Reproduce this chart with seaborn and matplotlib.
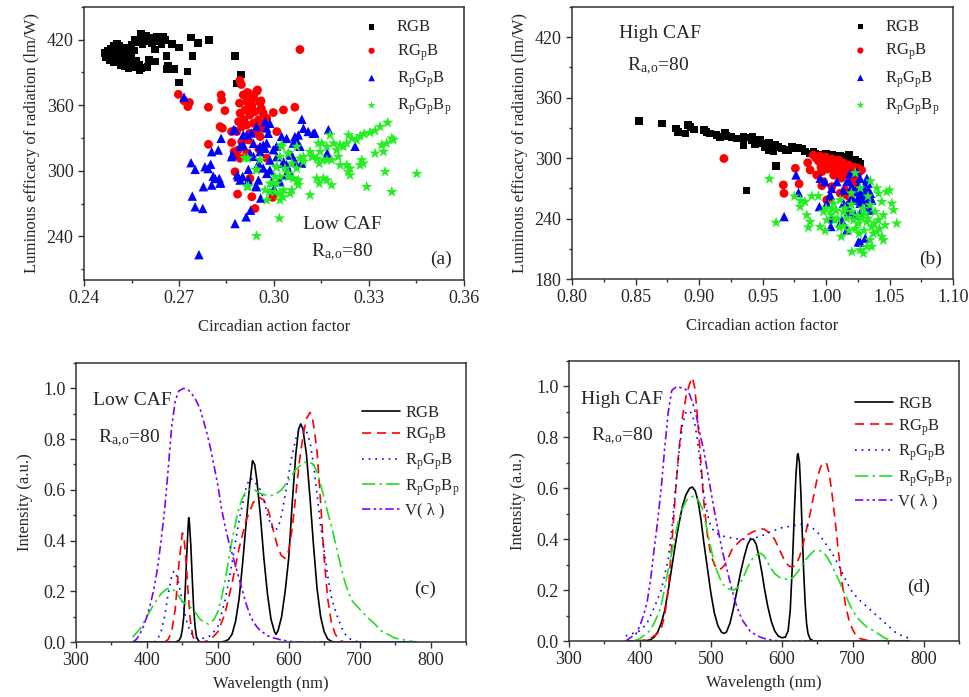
import matplotlib
matplotlib.use('Agg')
import matplotlib.pyplot as plt
from matplotlib.ticker import MultipleLocator, FormatStrFormatter
import seaborn as sns

# ---- scatter data: (circadian action factor, luminous efficacy lm/W) ----
a_rgb = [(0.2465, 408), (0.2470, 404), (0.2475, 410), (0.2480, 406), (0.2480, 401), (0.2485, 412),
         (0.2490, 403), (0.2490, 408), (0.2495, 399), (0.2500, 411), (0.2500, 405), (0.2505, 401),
         (0.2510, 414), (0.2510, 408), (0.2515, 397), (0.2520, 404), (0.2520, 411), (0.2525, 400),
         (0.2530, 407), (0.2530, 396), (0.2535, 413), (0.2540, 402), (0.2540, 409), (0.2545, 398),
         (0.2550, 405), (0.2550, 415), (0.2555, 395), (0.2560, 410), (0.2565, 401), (0.2570, 418),
         (0.2575, 397), (0.2575, 392), (0.2580, 425), (0.2585, 416), (0.2590, 421), (0.2595, 424),
         (0.2600, 419), (0.2605, 402), (0.2610, 422), (0.2615, 417), (0.2620, 420), (0.2625, 411),
         (0.2625, 400), (0.2630, 423), (0.2640, 419), (0.2645, 416), (0.2650, 423), (0.2655, 420),
         (0.2660, 405), (0.2660, 393), (0.2665, 396), (0.2678, 416), (0.2685, 393), (0.2700, 413),
         (0.2700, 381), (0.2727, 391), (0.2737, 422), (0.2743, 405), (0.2760, 417), (0.2795, 420),
         (0.2877, 405), (0.2895, 388), (0.2883, 380), (0.2560, 420), (0.2570, 396), (0.2505, 416),
         (0.2495, 414), (0.2515, 410), (0.2540, 394), (0.2600, 395), (0.2580, 394)]
a_rgpb = [(0.3082, 411), (0.2698, 370), (0.2716, 364), (0.2733, 362.5), (0.2728, 358.8), (0.2793, 358.2),
          (0.2833, 369.5), (0.2835, 364.9), (0.2845, 355.1), (0.2892, 382.7), (0.2897, 379), (0.2919, 371),
          (0.2948, 374), (0.2936, 367), (0.2959, 364), (0.2891, 361.9), (0.2903, 369.5), (0.2916, 371.7),
          (0.2933, 366.5), (0.2945, 372.6), (0.2956, 362.5), (0.2893, 352.7), (0.2909, 355.7), (0.2924, 351.1),
          (0.2940, 354.2), (0.2951, 346.6), (0.2935, 343.5), (0.2914, 342.0), (0.2898, 340.4), (0.2882, 335.9),
          (0.2866, 335.9), (0.2956, 338.9), (0.2966, 352.7), (0.2977, 348.1), (0.3009, 335.9), (0.2919, 328.2),
          (0.2898, 326.7), (0.2887, 319.0), (0.2893, 311.4), (0.2880, 314.4), (0.2914, 316.0), (0.2866, 325.8),
          (0.2874, 317.5), (0.2924, 334.3), (0.2945, 335.9), (0.2956, 331.3), (0.2930, 360.3), (0.2914, 363.4),
          (0.2998, 353.3), (0.3030, 355.7), (0.3066, 358.2), (0.2837, 339), (0.2793, 324.2), (0.2877, 299.1),
          (0.2924, 293), (0.2885, 278.6), (0.2930, 276.2), (0.2996, 275.6), (0.2940, 265.5), (0.2830, 340.4),
          (0.2977, 311.6), (0.2952, 320), (0.2905, 347), (0.2928, 358), (0.2960, 357), (0.2970, 343),
          (0.2888, 345)]
a_rpgpb = [(0.2716, 367.4), (0.2738, 307.4), (0.2751, 301.3), (0.2777, 285.4), (0.2742, 276.8), (0.2751, 267.0),
           (0.2775, 265.5), (0.2763, 223.2), (0.2877, 251.7), (0.2912, 257.8), (0.2926, 263.9), (0.2958, 275.0),
           (0.2803, 317.5), (0.2824, 319.0), (0.2833, 329.7), (0.2877, 337.4), (0.2782, 303.7), (0.2792, 302),
           (0.2800, 306), (0.2814, 293.0), (0.2827, 293.0), (0.2832, 289.0), (0.2803, 286.9), (0.2866, 312.9),
           (0.2887, 294.5), (0.2893, 291.5), (0.2919, 301.3), (0.2945, 285.4), (0.2951, 291.5), (0.2977, 297.6),
           (0.2993, 290.0), (0.3003, 282.3), (0.3019, 290.0), (0.2987, 300.7), (0.2956, 317.5), (0.2972, 320.5),
           (0.2987, 309.8), (0.3009, 312.9), (0.3030, 308.3), (0.3045, 300.7), (0.3066, 308.3), (0.3056, 314.4),
           (0.3093, 338.9), (0.3124, 334.3), (0.3088, 347.2), (0.2972, 345.0), (0.2987, 343.5), (0.2982, 334.3),
           (0.2914, 332.8), (0.2903, 323.6), (0.2935, 325.1), (0.2966, 323.6), (0.3040, 329.7), (0.3066, 331.3),
           (0.3077, 332.8), (0.3108, 336), (0.3129, 334.6), (0.3172, 337.7), (0.3168, 316.2), (0.3087, 307),
           (0.3061, 325.4), (0.3051, 314.7), (0.3040, 305.5), (0.3038, 296.3), (0.3014, 290.2), (0.2998, 282.6),
           (0.2943, 286.2), (0.2919, 291.7), (0.2901, 294.8), (0.2884, 296.3), (0.2868, 314.7), (0.2872, 337.7),
           (0.2945, 340.7), (0.2929, 334.6), (0.2903, 333), (0.2893, 322.4), (0.2924, 316.2), (0.2956, 322.4),
           (0.2977, 325.4), (0.2998, 319.3), (0.2951, 307), (0.2935, 313.2), (0.2966, 302.5), (0.3029, 307),
           (0.3066, 308.6), (0.3256, 322.4), (0.3072, 327), (0.3082, 322.4), (0.3024, 331.5), (0.3008, 322.4),
           (0.3051, 298), (0.2977, 339.2), (0.2829, 288.7), (0.2808, 295)]
a_rpgpbp = [(0.3359, 344.1), (0.3335, 340.4), (0.3319, 336.7), (0.3303, 334.9), (0.3285, 333.7), (0.3272, 331.8),
            (0.3261, 328.2), (0.3246, 329.7), (0.3235, 332.7), (0.3230, 325.1), (0.3219, 322.0), (0.3209, 323.6),
            (0.3198, 319.0), (0.3188, 325.1), (0.3177, 332.7), (0.3167, 322.0), (0.3151, 325.1), (0.3146, 317.5),
            (0.3156, 309.8), (0.3143, 306.7), (0.3135, 311.3), (0.3124, 312.9), (0.3114, 317.5), (0.3093, 312.9),
            (0.3082, 311.3), (0.3072, 302.1), (0.3056, 306.7), (0.3046, 297.6), (0.3061, 293.0), (0.3072, 289.9),
            (0.3077, 286.9), (0.3056, 282.3), (0.3051, 279.2), (0.3030, 282.3), (0.3019, 279.2), (0.3019, 273.1),
            (0.3003, 280.7), (0.2988, 288.4), (0.2977, 273.1), (0.2972, 282.3), (0.3007, 303.1), (0.3024, 322.0),
            (0.3046, 315.9), (0.3003, 294.5), (0.3019, 294.5), (0.3143, 288.4), (0.3156, 293.0), (0.3182, 286.9),
            (0.3167, 291.4), (0.3209, 305.2), (0.3230, 305.2), (0.3240, 302.1), (0.3235, 299.1), (0.3240, 296.0),
            (0.3272, 305.2), (0.3282, 306.7), (0.3277, 309.8), (0.3319, 315.9), (0.3346, 317.5), (0.3340, 323.6),
            (0.3356, 325.1), (0.3377, 328.2), (0.3372, 329.7), (0.3351, 299.1), (0.3293, 285.3), (0.3372, 280.7),
            (0.3114, 277.7), (0.3167, 309.8), (0.3182, 309.8), (0.3203, 312.9), (0.3451, 297.3), (0.3017, 256.5),
            (0.2945, 240.3), (0.2914, 285.6), (0.2943, 301), (0.2998, 289), (0.3029, 276), (0.2908, 311.6),
            (0.2956, 310), (0.3024, 323.6), (0.3045, 316.0), (0.3009, 303.7), (0.3019, 312.9), (0.3035, 302.2),
            (0.3045, 294.5), (0.3077, 291.5), (0.3009, 288.4), (0.2987, 280.8), (0.2945, 300.7), (0.2917, 311.4),
            (0.2919, 285.4), (0.3140, 325.1), (0.3119, 312.9), (0.3093, 308.3), (0.3072, 322.1), (0.3135, 293.0)]

b_rgb = [(0.8529, 336.9), (0.8707, 334.3), (0.8818, 329.3), (0.8836, 326.0), (0.8894, 324.4), (0.8915, 332.6),
         (0.8933, 331.0), (0.8960, 328.3), (0.9039, 327.7), (0.9060, 326.0), (0.9086, 324.4), (0.9139, 322.7),
         (0.9165, 321.1), (0.9204, 325.4), (0.9217, 321.7), (0.9257, 321.1), (0.9296, 319.4), (0.9349, 321.1),
         (0.9349, 312.8), (0.9388, 320.4), (0.9415, 317.8), (0.9454, 316.1), (0.9494, 314.5), (0.9520, 311.2),
         (0.9546, 307.9), (0.9573, 311.2), (0.9586, 306.3), (0.9652, 309.5), (0.9704, 307.9), (0.9731, 311.2),
         (0.9757, 309.5), (0.9810, 309.5), (0.9836, 306.3), (0.9875, 304.6), (0.9914, 304.0), (0.9954, 303.0),
         (0.9993, 302.0), (1.0033, 301.3), (1.0072, 299.7), (1.0112, 302.0), (1.0138, 301.3), (1.0164, 299.7),
         (1.0217, 298.0), (1.0269, 294.1), (0.9604, 292.1), (0.9375, 267.7), (0.9600, 313), (0.9550, 315),
         (0.9620, 311), (0.9480, 318), (0.9420, 321), (0.9440, 314), (0.9680, 308), (0.9780, 310),
         (0.9900, 306), (1.0000, 304), (1.0050, 303), (1.0180, 303), (1.0230, 298), (1.0250, 296)]
b_rgpb = [(0.9196, 299.5), (0.9759, 289.8), (0.9664, 273.3), (0.9669, 265.0), (0.9788, 274.3), (0.9856, 295.4),
          (0.9875, 288.1), (0.9927, 283.2), (0.9967, 286.5), (0.9967, 272.6), (1.0006, 258.4), (1.0046, 271.6),
          (1.0112, 265.0), (1.0163, 263.2), (0.9980, 276.5), (1.0027, 259.0), (0.990, 303), (0.992, 300),
          (0.995, 302), (0.997, 298), (1.000, 301), (1.002, 297), (1.003, 294), (1.005, 299), (1.007, 296),
          (1.008, 292), (1.010, 298), (1.011, 294), (1.012, 290), (1.014, 295), (1.015, 292), (1.016, 288),
          (1.018, 293), (1.019, 289), (1.020, 286), (1.022, 291), (1.023, 287), (1.025, 290), (1.026, 286),
          (1.028, 288), (0.998, 295), (1.004, 290), (1.009, 287), (1.013, 285), (1.017, 283), (1.021, 281),
          (1.024, 279), (1.006, 283), (1.012, 280), (1.019, 276), (1.022, 272), (1.018, 262), (1.015, 268),
          (1.001, 289), (0.994, 297), (0.996, 291)]
b_rpgpb = [(0.9670, 241.9), (0.9764, 283.2), (0.9783, 265.7), (0.9948, 251.8), (0.9954, 279.9), (1.0033, 263.4),
           (1.0006, 255.2), (1.0038, 232.1), (1.0112, 235.4), (1.0164, 228.8), (1.0269, 216.6), (1.0309, 220.5),
           (1.0269, 245.3), (1.0322, 279.9), (1.0190, 284.8), (1.0164, 276.6), (1.0085, 276.6), (1.0138, 255.2),
           (1.0190, 258.4), (0.9993, 276.5), (1.0045, 269.8), (1.0032, 263.2), (1.0045, 240.1), (1.0124, 238.4),
           (1.0176, 246.7), (1.0255, 216.9), (1.0176, 278.1), (1.0268, 279.8), (1.0321, 278.1), (1.0334, 268.2),
           (1.0347, 261.6), (1.0295, 264.9), (1.0242, 266.5), (1.0308, 258.3), (1.0268, 255.0), (1.0216, 258.3),
           (1.0163, 253.3), (1.0255, 273.2), (1.0281, 261.6), (1.0321, 251.7), (1.0203, 271.5), (1.0137, 268.2),
           (1.0347, 248.4), (1.0229, 243.4), (1.0242, 286.4), (1.0360, 258.3), (1.0300, 270), (1.0330, 275),
           (1.0280, 268), (1.0250, 260), (1.0350, 265), (1.0310, 263)]
b_rpgpbp = [(0.9554, 279.2), (0.9607, 236.0), (0.9796, 251.7), (0.9835, 256.6), (0.9888, 262.2), (0.9940, 262.2),
            (0.9848, 243.4), (0.9875, 236.8), (0.9861, 231.2), (0.9953, 231.8), (0.9993, 227.9), (0.9980, 246.7),
            (1.0045, 250.0), (1.0071, 238.4), (1.0106, 231.2), (1.0137, 232.5), (1.0163, 240.1), (1.0137, 246.7),
            (1.0203, 246.7), (1.0216, 238.4), (1.0255, 235.1), (1.0281, 240.1), (1.0308, 245.0), (1.0321, 236.8),
            (1.0360, 231.8), (1.0373, 225.2), (1.0347, 218.6), (1.0321, 212.0), (1.0268, 208.7), (1.0203, 207.0),
            (1.0295, 205.4), (1.0360, 212.0), (1.0413, 264.9), (1.0439, 256.6), (1.0478, 266.5), (1.0518, 255.0),
            (1.0531, 248.4), (1.0557, 235.1), (1.0465, 233.5), (1.0413, 238.4), (1.0400, 226.9), (1.0452, 218.6),
            (1.0452, 243.4), (1.0347, 253.3), (1.0386, 246.7), (1.0111, 258.3), (1.0058, 255.0), (1.0006, 238.4),
            (0.9752, 262), (0.9800, 258), (1.0000, 250), (1.0080, 248), (1.0150, 250), (1.0200, 254),
            (1.0250, 243), (1.0290, 250), (1.0330, 240), (1.0380, 235), (1.0420, 230), (1.0440, 222),
            (1.0300, 228), (1.0260, 225), (1.0230, 230), (1.0180, 228), (1.0120, 222), (1.0090, 240),
            (1.0040, 244), (1.0330, 262), (1.0270, 270), (1.0200, 265), (1.0350, 277), (1.0400, 270),
            (1.0230, 285), (1.0500, 268)]

# ---- spectra: (wavelength nm, relative intensity) ----
c_rgb = [(380, 0), (440, 0), (445, 0.005), (448, 0.02), (450, 0.05), (452, 0.10), (454, 0.20), (456, 0.33),
         (458, 0.45), (459, 0.49), (460, 0.47), (462, 0.38), (464, 0.25), (466, 0.13), (468, 0.06), (470, 0.02),
         (473, 0.004), (476, 0), (505, 0), (510, 0.003), (515, 0.01), (520, 0.03), (525, 0.08), (530, 0.17),
         (535, 0.31), (540, 0.47), (545, 0.62), (549, 0.715), (552, 0.70), (555, 0.64), (560, 0.50), (565, 0.33),
         (570, 0.19), (575, 0.09), (580, 0.04), (582, 0.03), (585, 0.045), (590, 0.10), (595, 0.20), (600, 0.33),
         (605, 0.55), (610, 0.74), (614, 0.84), (617, 0.86), (620, 0.84), (625, 0.74), (630, 0.57), (635, 0.38),
         (640, 0.21), (645, 0.10), (650, 0.04), (655, 0.012), (660, 0.003), (665, 0), (780, 0)]
c_rgpb = [(425, 0), (430, 0.01), (435, 0.04), (440, 0.13), (445, 0.30), (450, 0.43), (452, 0.42), (455, 0.33),
          (458, 0.20), (461, 0.09), (465, 0.02), (470, 0.003), (475, 0), (480, 0), (490, 0.01), (500, 0.04),
          (510, 0.11), (520, 0.23), (530, 0.37), (540, 0.48), (550, 0.55), (558, 0.57), (565, 0.56), (570, 0.53),
          (575, 0.48), (580, 0.42), (585, 0.37), (590, 0.34), (595, 0.33), (600, 0.36), (605, 0.45), (610, 0.58),
          (615, 0.71), (620, 0.81), (625, 0.88), (630, 0.905), (633, 0.89), (636, 0.84), (640, 0.75), (645, 0.55),
          (650, 0.33), (655, 0.17), (660, 0.08), (665, 0.035), (670, 0.01), (675, 0.003), (680, 0)]
c_rpgpb = [(410, 0), (415, 0.01), (420, 0.04), (425, 0.10), (430, 0.19), (435, 0.26), (438, 0.28), (441, 0.27),
           (445, 0.23), (450, 0.16), (455, 0.09), (460, 0.05), (465, 0.025), (470, 0.015), (480, 0.015),
           (490, 0.025), (500, 0.06), (510, 0.16), (520, 0.31), (530, 0.48), (540, 0.61), (545, 0.645),
           (550, 0.64), (555, 0.62), (560, 0.60), (565, 0.56), (570, 0.50), (575, 0.46), (580, 0.44), (585, 0.45),
           (590, 0.50), (595, 0.58), (600, 0.66), (605, 0.74), (610, 0.80), (615, 0.84), (620, 0.845), (625, 0.83),
           (630, 0.79), (635, 0.70), (640, 0.58), (645, 0.46), (650, 0.36), (655, 0.26), (660, 0.18), (665, 0.13),
           (670, 0.09), (675, 0.055), (680, 0.03), (685, 0.015), (690, 0.006), (700, 0)]
c_rpgpbp = [(380, 0.02), (390, 0.05), (400, 0.10), (410, 0.15), (420, 0.19), (428, 0.21), (435, 0.21), (440, 0.20),
            (445, 0.18), (450, 0.16), (455, 0.15), (460, 0.14), (465, 0.13), (470, 0.11), (475, 0.09), (480, 0.08),
            (487, 0.07), (495, 0.09), (500, 0.12), (505, 0.17), (510, 0.24), (515, 0.32), (520, 0.40), (525, 0.47),
            (530, 0.53), (535, 0.57), (540, 0.595), (547, 0.605), (555, 0.595), (560, 0.585), (570, 0.578),
            (577, 0.578), (585, 0.59), (590, 0.60), (600, 0.64), (610, 0.68), (620, 0.705), (627, 0.712),
            (635, 0.70), (640, 0.67), (645, 0.62), (650, 0.57), (655, 0.51), (660, 0.46), (665, 0.40), (670, 0.34),
            (675, 0.28), (680, 0.23), (685, 0.19), (690, 0.16), (700, 0.13), (710, 0.10), (720, 0.075),
            (730, 0.045), (740, 0.03), (750, 0.015), (760, 0.01), (770, 0.004), (780, 0)]
c_vlam = [(380, 0), (385, 0.01), (390, 0.03), (395, 0.06), (400, 0.10), (405, 0.15), (410, 0.21), (415, 0.29),
          (420, 0.40), (425, 0.52), (430, 0.68), (435, 0.85), (440, 0.95), (445, 0.99), (452, 1.0), (458, 0.995),
          (463, 0.98), (468, 0.96), (475, 0.92), (480, 0.87), (485, 0.82), (490, 0.76), (495, 0.69), (500, 0.62),
          (505, 0.53), (510, 0.46), (515, 0.40), (520, 0.35), (525, 0.30), (530, 0.25), (535, 0.20), (540, 0.15),
          (545, 0.11), (550, 0.08), (555, 0.06), (560, 0.045), (570, 0.025), (580, 0.015), (590, 0.008),
          (600, 0.003), (610, 0), (780, 0)]

d_rgb = [(380, 0), (400, 0), (410, 0.002), (415, 0.005), (420, 0.015), (425, 0.035), (430, 0.07), (435, 0.12),
         (440, 0.20), (445, 0.29), (450, 0.38), (455, 0.46), (460, 0.53), (465, 0.575), (470, 0.60), (474, 0.605),
         (478, 0.59), (482, 0.55), (486, 0.48), (490, 0.39), (495, 0.29), (500, 0.19), (505, 0.11), (510, 0.06),
         (515, 0.035), (518, 0.03), (522, 0.035), (527, 0.07), (532, 0.13), (537, 0.20), (542, 0.27), (547, 0.33),
         (552, 0.38), (556, 0.40), (560, 0.40), (564, 0.38), (568, 0.33), (572, 0.27), (576, 0.20), (580, 0.14),
         (585, 0.08), (590, 0.04), (595, 0.02), (600, 0.013), (605, 0.015), (609, 0.04), (612, 0.12), (615, 0.30),
         (618, 0.52), (620, 0.65), (622, 0.73), (623, 0.736), (625, 0.70), (627, 0.58), (629, 0.42), (631, 0.27),
         (633, 0.15), (635, 0.07), (637, 0.03), (640, 0.008), (645, 0), (780, 0)]
d_rgpb = [(395, 0), (405, 0.003), (415, 0.01), (420, 0.02), (425, 0.03), (430, 0.05), (435, 0.10), (440, 0.20),
          (445, 0.38), (450, 0.58), (455, 0.75), (460, 0.88), (465, 0.96), (470, 1.01), (474, 1.035), (477, 1.0),
          (480, 0.92), (485, 0.74), (490, 0.55), (495, 0.42), (500, 0.34), (505, 0.30), (510, 0.28), (515, 0.285),
          (520, 0.30), (525, 0.33), (530, 0.36), (540, 0.39), (550, 0.415), (560, 0.43), (570, 0.44), (575, 0.44),
          (580, 0.43), (590, 0.40), (595, 0.37), (600, 0.34), (605, 0.31), (610, 0.295), (615, 0.29), (620, 0.30),
          (625, 0.33), (630, 0.38), (635, 0.44), (640, 0.50), (645, 0.57), (650, 0.64), (655, 0.685), (660, 0.70),
          (663, 0.70), (666, 0.67), (670, 0.60), (675, 0.48), (680, 0.35), (685, 0.23), (690, 0.14), (695, 0.08),
          (700, 0.045), (705, 0.02), (710, 0.01), (720, 0.003), (730, 0)]
d_rpgpb = [(380, 0.02), (390, 0.03), (400, 0.04), (410, 0.07), (420, 0.13), (430, 0.20), (440, 0.32), (445, 0.44),
           (450, 0.59), (455, 0.74), (460, 0.85), (465, 0.90), (469, 0.905), (473, 0.895), (477, 0.86), (481, 0.79),
           (485, 0.70), (490, 0.58), (495, 0.50), (500, 0.45), (505, 0.43), (510, 0.42), (520, 0.41), (530, 0.405),
           (540, 0.40), (550, 0.40), (560, 0.405), (570, 0.41), (580, 0.425), (590, 0.435), (600, 0.445),
           (610, 0.45), (620, 0.455), (630, 0.46), (640, 0.45), (650, 0.43), (660, 0.39), (670, 0.35), (680, 0.30),
           (690, 0.24), (700, 0.19), (710, 0.16), (720, 0.135), (730, 0.11), (740, 0.085), (750, 0.06),
           (760, 0.035), (770, 0.02), (780, 0.01)]
d_rpgpbp = [(390, 0), (395, 0.004), (400, 0.01), (405, 0.02), (410, 0.03), (415, 0.045), (420, 0.07), (425, 0.10),
            (430, 0.14), (435, 0.21), (440, 0.28), (445, 0.35), (450, 0.42), (455, 0.48), (460, 0.52), (465, 0.55),
            (470, 0.565), (477, 0.57), (483, 0.55), (488, 0.52), (493, 0.46), (498, 0.39), (503, 0.33), (508, 0.28),
            (513, 0.245), (518, 0.22), (525, 0.205), (532, 0.20), (538, 0.21), (545, 0.245), (552, 0.29),
            (558, 0.32), (565, 0.34), (570, 0.345), (575, 0.335), (580, 0.31), (585, 0.285), (590, 0.265),
            (597, 0.25), (604, 0.245), (610, 0.24), (616, 0.25), (622, 0.27), (628, 0.295), (634, 0.32), (640, 0.34),
            (646, 0.355), (652, 0.357), (658, 0.35), (664, 0.33), (670, 0.30), (676, 0.265), (682, 0.23),
            (688, 0.19), (694, 0.155), (700, 0.12), (706, 0.095), (712, 0.075), (720, 0.055), (730, 0.04),
            (738, 0.025), (745, 0.012), (752, 0.005), (760, 0)]
d_vlam = [(380, 0), (385, 0.01), (390, 0.02), (395, 0.03), (400, 0.06), (405, 0.10), (410, 0.15), (415, 0.24),
          (420, 0.36), (425, 0.47), (430, 0.60), (435, 0.76), (440, 0.90), (445, 0.985), (452, 1.0), (458, 0.995),
          (464, 0.99), (470, 0.97), (475, 0.93), (480, 0.88), (485, 0.81), (490, 0.75), (495, 0.67), (500, 0.59),
          (505, 0.51), (510, 0.44), (515, 0.37), (520, 0.31), (525, 0.255), (530, 0.20), (535, 0.15), (540, 0.11),
          (545, 0.08), (550, 0.06), (555, 0.04), (560, 0.03), (570, 0.015), (580, 0.006), (590, 0.002),
          (600, 0), (780, 0)]

labels = ['RGB', 'RG$_p$B', 'R$_p$G$_p$B', 'R$_p$G$_p$B$_p$', 'V( λ )']
colors = ['black', '#ff0000', '#0000ff', '#22dd22', '#8000ff']
scat_green = '#22ee22'
markers = ['s', 'o', '^', '*']
msizes = [30, 40, 46, 75]
dash_styles = ['-', (0, (5.5, 3.5)), (0, (1, 3)), (0, (8, 2.5, 1.5, 2.5)), (0, (5, 2, 1.5, 2, 1.5, 2))]
ra_text = r'R$_{a,\!o}$=80'

sns.set_style('ticks')
plt.rcParams['font.family'] = ['Liberation Serif', 'DejaVu Serif']
plt.rcParams['mathtext.default'] = 'regular'
frame = '#333333'


def style_axes(ax):
    for s in ax.spines.values():
        s.set_color(frame)
        s.set_linewidth(1.1)
    ax.tick_params(which='both', direction='out', color=frame, width=1.0, labelsize=13,
                   top=False, right=False)
    ax.tick_params(which='major', length=4)
    ax.tick_params(which='minor', length=2.5)


fig = plt.figure(figsize=(9.69, 6.97), dpi=100)

scatter_sets = [
    ([a_rgb, a_rgpb, a_rpgpb, a_rpgpbp], [0.0867, 0.5983, 0.3921, 0.3917], (0.24, 0.36), (200, 450),
     0.03, 0.015, [240, 300, 360, 420], [('Low CAF', 0.68, 0.205), (ra_text, 0.68, 0.10), ('(a)', 0.94, 0.075)]),
    ([b_rgb, b_rgpb, b_rpgpb, b_rpgpbp], [0.5903, 0.5997, 0.3932, 0.3906], (0.80, 1.10), (180, 450),
     0.05, 0.025, [180, 240, 300, 360, 420], [('High CAF', 0.23, 0.90), (ra_text, 0.225, 0.78), ('(b)', 0.94, 0.072)]),
]

for groups, rect, xl, yl, xmaj, xmin, yt, notes in scatter_sets:
    ax = fig.add_axes(rect)
    for i, pts in enumerate(groups):
        xs = [p[0] for p in pts]
        ys = [p[1] for p in pts]
        col = scat_green if i == 3 else colors[i]
        sns.scatterplot(x=xs, y=ys, ax=ax, marker=markers[i], s=msizes[i], color=col,
                        edgecolor='none', linewidth=0, label=labels[i])
    ax.set_xlim(*xl)
    ax.set_ylim(*yl)
    ax.xaxis.set_major_locator(MultipleLocator(xmaj))
    ax.xaxis.set_minor_locator(MultipleLocator(xmin))
    ax.set_yticks(yt)
    ax.yaxis.set_minor_locator(MultipleLocator(30))
    ax.xaxis.set_major_formatter(FormatStrFormatter('%.2f'))
    ax.set_xlabel('Circadian action factor', fontsize=12, labelpad=8)
    ax.set_ylabel('Luminous efficacy of radiation (lm/W)', fontsize=12, labelpad=5)
    style_axes(ax)
    for txt, tx, ty in notes:
        ax.text(tx, ty, txt, transform=ax.transAxes, ha='center', va='center', fontsize=14)
    ax.legend(loc='upper left', bbox_to_anchor=(0.735, 0.955), frameon=False, fontsize=12,
              handlelength=1.0, handletextpad=1.0, borderpad=0, borderaxespad=0,
              labelspacing=0.4, markerscale=0.7)

line_sets = [
    ([c_rgb, c_rgpb, c_rpgpb, c_rpgpbp, c_vlam], [0.0784, 0.0789, 0.4025, 0.4003],
     [('Low CAF', 0.145, 0.867), (ra_text, 0.135, 0.73), ('(c)', 0.895, 0.19)], (0.733, 0.85)),
    ([d_rgb, d_rgpb, d_rpgpb, d_rpgpbp, d_vlam], [0.5872, 0.0803, 0.4025, 0.4017],
     [('High CAF', 0.135, 0.864), (ra_text, 0.135, 0.73), ('(d)', 0.897, 0.193)], (0.733, 0.875)),
]

for curves, rect, notes, leg_anchor in line_sets:
    ax = fig.add_axes(rect)
    for i, pts in enumerate(curves):
        wl = [p[0] for p in pts]
        inten = [p[1] for p in pts]
        sns.lineplot(x=wl, y=inten, ax=ax, color=colors[i], linestyle=dash_styles[i], linewidth=1.2,
                     label=labels[i], estimator=None, sort=False)
    ax.set_xlim(300, 850)
    ax.set_ylim(0, 1.1)
    ax.xaxis.set_major_locator(MultipleLocator(100))
    ax.xaxis.set_minor_locator(MultipleLocator(50))
    ax.set_yticks([0, 0.2, 0.4, 0.6, 0.8, 1.0])
    ax.yaxis.set_minor_locator(MultipleLocator(0.1))
    ax.yaxis.set_major_formatter(FormatStrFormatter('%.1f'))
    ax.set_xlabel('Wavelength (nm)', fontsize=12, labelpad=5)
    ax.set_ylabel('Intensity (a.u.)', fontsize=12, labelpad=7)
    style_axes(ax)
    for txt, tx, ty in notes:
        ax.text(tx, ty, txt, transform=ax.transAxes, ha='center', va='center', fontsize=14)
    ax.legend(loc='upper left', bbox_to_anchor=leg_anchor, frameon=False, fontsize=12,
              handlelength=2.3, handletextpad=0.3, borderpad=0, borderaxespad=0, labelspacing=0.3)

fig.savefig('out.png', dpi=100)
